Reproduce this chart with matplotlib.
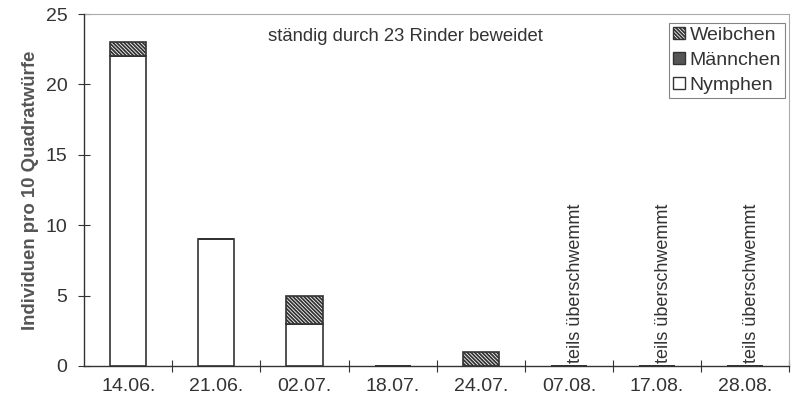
"""
Gestapeltes Balkendiagramm: Zecken pro 10 Quadratwuerfe, staendig beweidete Flaeche.
"""

import matplotlib
matplotlib.use('Agg')
import matplotlib.pyplot as plt
import numpy as np
from matplotlib.patches import Patch

# Daten
dates = ['14.06.', '21.06.', '02.07.', '18.07.', '24.07.', '07.08.', '17.08.', '28.08.']
nymphen = [22, 9, 3, 0, 0, 0, 0, 0]
maennchen = [0, 0, 0, 0, 0, 0, 0, 0]
weibchen = [1, 0, 2, 0, 1, 0, 0, 0]
flooded = ['07.08.', '17.08.', '28.08.']

TEXT_COLOR = '#333333'
HATCH = '\\' * 9
plt.rcParams['font.family'] = ['Liberation Sans', 'DejaVu Sans']
plt.rcParams['hatch.linewidth'] = 1.3
plt.rcParams['hatch.color'] = '#333333'

fig = plt.figure(figsize=(7.94, 4.05), dpi=100)
ax = fig.add_axes([0.106, 0.0963, 0.888, 0.869])

x = np.arange(len(dates))
width = 0.41
nym = np.array(nymphen, dtype=float)
mae = np.array(maennchen, dtype=float)
wei = np.array(weibchen, dtype=float)

ax.bar(x, nym, width, color='white', edgecolor='#333333', linewidth=1.2, zorder=3)
ax.bar(x, mae, width, bottom=nym, color='#555555', edgecolor='#333333', linewidth=1.2, zorder=3)
ax.bar(x, wei, width, bottom=nym + mae, color='white', edgecolor='#333333',
       hatch=HATCH, linewidth=1.2, zorder=3)

# Beschriftung ueberschwemmter Termine
for d in flooded:
    i = dates.index(d)
    ax.text(i + 0.07, 0.2, 'teils überschwemmt', rotation=90, ha='center', va='bottom',
            fontsize=13, color=TEXT_COLOR)

ax.text(3.15, 23.4, 'ständig durch 23 Rinder beweidet', ha='center', va='center',
        fontsize=13.3, color=TEXT_COLOR)

# Achsen
ax.set_xlim(-0.5, len(dates) - 0.5)
ax.set_ylim(0, 25)
ax.set_yticks([0, 5, 10, 15, 20, 25])
ax.set_xticks(np.arange(len(dates)) + 0.5, minor=False)
ax.set_xticklabels([])
ax.set_xticks(x, minor=True)
ax.set_xticklabels(dates, minor=True)
ax.tick_params(axis='x', which='major', direction='inout', length=8, width=0.8, color='#333333')
ax.tick_params(axis='x', which='minor', length=0, pad=9, labelsize=14, labelcolor=TEXT_COLOR)
ax.tick_params(axis='y', direction='inout', length=8, width=0.8, color='#333333',
               labelsize=14, labelcolor=TEXT_COLOR, pad=8)

ax.set_ylabel('Individuen pro 10 Quadratwürfe', fontsize=13.4, fontweight='bold',
              color='#555555', labelpad=5)

for side in ['left', 'bottom']:
    ax.spines[side].set_color('#333333')
    ax.spines[side].set_linewidth(1.0)
    ax.spines[side].set_zorder(4)
for side in ['top', 'right']:
    ax.spines[side].set_color('#aaaaaa')
    ax.spines[side].set_linewidth(0.8)
    ax.spines[side].set_linestyle((0, (2, 1)))

handles = [
    Patch(facecolor='white', edgecolor='#333333', hatch=HATCH, label='Weibchen'),
    Patch(facecolor='#555555', edgecolor='#333333', label='Männchen'),
    Patch(facecolor='white', edgecolor='#333333', label='Nymphen'),
]
leg = ax.legend(handles=handles, loc='upper right', bbox_to_anchor=(0.994, 0.975),
                fontsize=14, frameon=True, fancybox=False, handlelength=0.6,
                handleheight=0.6, handletextpad=0.25, labelspacing=0.42,
                borderpad=0.2, borderaxespad=0)
leg.get_frame().set_edgecolor('#666666')
leg.get_frame().set_linewidth(0.8)
for t in leg.get_texts():
    t.set_color(TEXT_COLOR)

fig.savefig('out.png', dpi=100, facecolor='white')
plt.close(fig)
